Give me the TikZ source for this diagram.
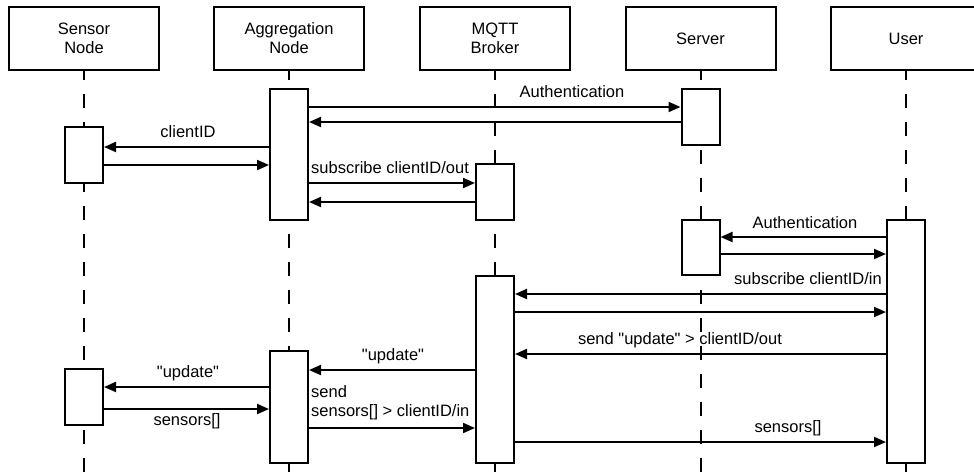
\documentclass[tikz,border=0pt]{standalone}
\usepackage{fontspec}
\setmainfont{Liberation Sans}[Ligatures=TeXOff]
\usetikzlibrary{arrows.meta}
\begin{document}
\begin{tikzpicture}[x=1pt,y=-1pt,
  every node/.style={font=\fontsize{16.5}{19}\selectfont},
  head/.style={draw, line width=2pt, minimum width=150pt, minimum height=63pt, align=center, inner sep=0pt, fill=white},
  act/.style={draw, line width=2pt, fill=white, minimum width=38pt, inner sep=0pt},
  life/.style={line width=2pt, dash pattern=on 14pt off 14pt, dash phase=5pt},
  msg/.style={line width=2pt, -{Triangle[length=12pt,width=10pt]}},
  lbl/.style={anchor=base, inner sep=0pt}
]
\useasboundingbox (0,0) rectangle (974,474);
\clip (0,0) rectangle (974,474);
\fill[white] (0,0) rectangle (974,474);

% headers
\node[head] (sn) at (84,38.5) {Sensor\\Node};
\node[head] (an) at (289,38.5) {Aggregation\\Node};
\node[head] (mb) at (495,38.5) {MQTT\\Broker};
\node[head] (sv) at (700.5,38.5) {Server};
\node[head] (us) at (906,38.5) {User};

% lifelines
\coordinate (snE) at (84,474);
\coordinate (anE) at (289,474);
\coordinate (mbE) at (495,474);
\coordinate (svE) at (700.5,474);
\coordinate (usE) at (906,474);
\draw[life] (sn.south) -- (snE);
\draw[life] (an.south) -- (anE);
\draw[life] (mb.south) -- (mbE);
\draw[life] (sv.south) -- (svE);
\draw[life] (us.south) -- (usE);

% activations
\node[act, minimum height=56pt] (sa1) at (84,155) {};
\node[act, minimum height=56pt] (sa2) at (84,397) {};
\node[act, minimum height=131pt] (aa1) at (289,154.5) {};
\node[act, minimum height=112pt] (aa2) at (289,407) {};
\node[act, minimum height=56pt] (ma1) at (495,192) {};
\node[act, minimum height=187pt] (ma2) at (495,369.5) {};
\node[act, minimum height=56pt] (va1) at (700.5,117) {};
\node[act, minimum height=55pt] (va2) at (700.5,247.5) {};
\node[act, minimum height=243pt] (ua1) at (906,341.5) {};

% messages
\draw[msg] (aa1.east |- 0,107) -- (va1.west |- 0,107);
\node[lbl] (l1) at (572,97) {Authentication};
\draw[msg] (va1.west |- 0,122) -- (aa1.east |- 0,122);
\draw[msg] (aa1.west |- 0,147) -- (sa1.east |- 0,147);
\node[lbl] (l3) at (188,137) {clientID};
\draw[msg] (sa1.east |- 0,165) -- (aa1.west |- 0,165);
\draw[msg] (aa1.east |- 0,183) -- (ma1.west |- 0,183);
\node[lbl, anchor=base west] (l5) at (311,173) {subscribe clientID/out};
\draw[msg] (ma1.west |- 0,202) -- (aa1.east |- 0,202);

\draw[msg] (ua1.west |- 0,237) -- (va2.east |- 0,237);
\node[lbl] (l7) at (805,228) {Authentication};
\draw[msg] (va2.east |- 0,254) -- (ua1.west |- 0,254);
\draw[msg] (ua1.west |- 0,294) -- (ma2.east |- 0,294);
\node[lbl, anchor=base east] (l9) at (882,284) {subscribe clientID/in};
\draw[msg] (ma2.east |- 0,312) -- (ua1.west |- 0,312);
\draw[msg] (ua1.west |- 0,354) -- (ma2.east |- 0,354);
\node[lbl] (l11) at (680,344) {send "update" > clientID/out};

\draw[msg] (ma2.west |- 0,370) -- (aa2.east |- 0,370);
\node[lbl] (l12) at (393,360) {"update"};
\draw[msg] (aa2.west |- 0,387) -- (sa2.east |- 0,387);
\node[lbl] (l13) at (188,377) {"update"};
\draw[msg] (sa2.east |- 0,409) -- (aa2.west |- 0,409);
\node[lbl] (l14) at (187,425) {sensors[]};
\draw[msg] (aa2.east |- 0,428) -- (ma2.west |- 0,428);
\node[inner sep=0pt, anchor=north west, align=left] (l15) at (311,385) {send\\sensors[] > clientID/in};
\draw[msg] (ma2.east |- 0,442) -- (ua1.west |- 0,442);
\node[lbl] (l16) at (788,432) {sensors[]};
\end{tikzpicture}
\end{document}
